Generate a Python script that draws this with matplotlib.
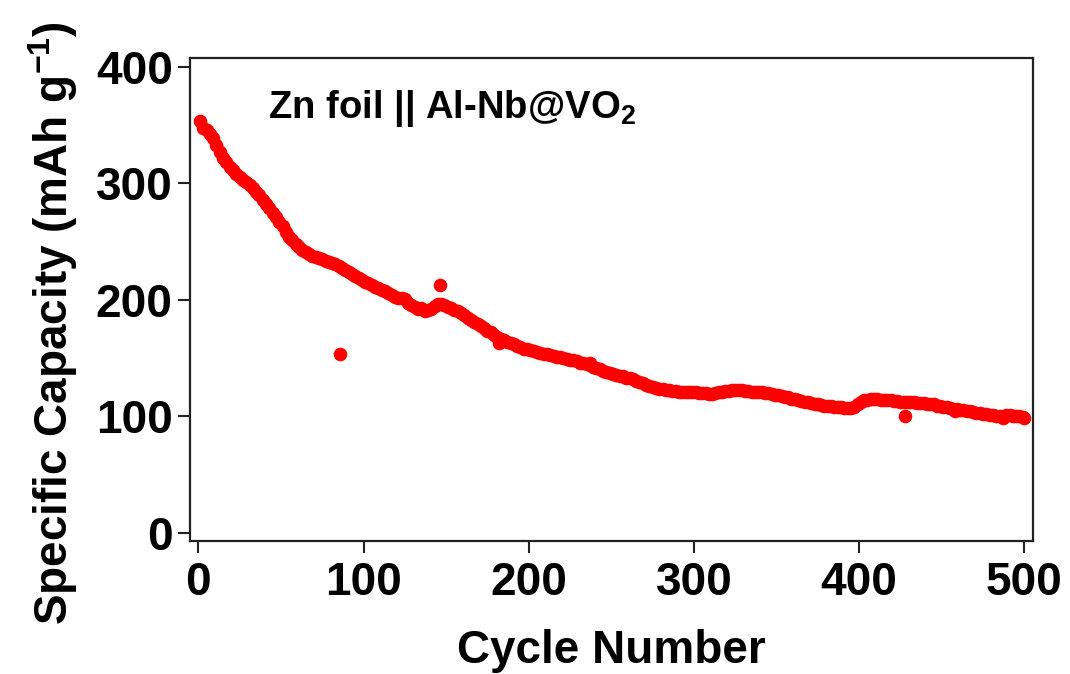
import numpy as np
import matplotlib
matplotlib.use("Agg")
import matplotlib.pyplot as plt

plt.rcParams['font.family'] = ['Liberation Sans', 'DejaVu Sans']
plt.rcParams['font.weight'] = 'bold'
plt.rcParams['mathtext.fontset'] = 'custom'
plt.rcParams['mathtext.rm'] = 'Liberation Sans:bold'
plt.rcParams['mathtext.bf'] = 'Liberation Sans:bold'

# capacity read at odd cycle numbers 1, 3, 5 ... 499
cycles = np.arange(1, 500, 2)
capacity = [
    353, 347, 345.5, 342, 338.5, 333, 327, 322, 318, 314,
    311, 308, 305.5, 303, 301, 298.5, 295.5, 292.5, 289.5, 286,
    282.5, 278.5, 274.5, 271, 267, 263, 258.5, 254, 251, 248,
    245.5, 243, 240.5, 239, 237.5, 236.5, 235.5, 234.5, 233.5, 232.5,
    231.5, 230.5, 229, 227.5, 225.5, 223.5, 222, 220, 218.5, 217,
    215.5, 214, 212.5, 211, 210, 208.5, 207, 205.5, 204, 202.5,
    201, 201.5, 200.5, 197, 195, 193.5, 192, 193, 190.5, 191.5,
    192, 194.5, 196.5, 196, 195, 194, 192.5, 191, 190, 188.5,
    186.5, 184.5, 182.5, 180.5, 179, 177, 175.5, 173.5, 172, 170,
    168, 166.5, 165, 163.5, 162.5, 161.5, 160.5, 159, 158, 157.5,
    156.5, 156, 155, 154.5, 153.5, 153, 152.5, 151.5, 151, 150.5,
    149.5, 149, 148.5, 148, 147, 146, 145.5, 144.5, 144, 142.5,
    141.5, 140.5, 139, 138, 137, 136, 135.5, 134.5, 134, 133,
    132.5, 131.5, 130.5, 129, 128, 127, 126, 125, 124.5, 123.5,
    123, 122.5, 122, 121.5, 121.5, 121, 121, 121, 120.5, 120.5,
    120.5, 120, 120, 119.5, 119, 119, 119.5, 120.5, 121, 121.5,
    121.5, 122, 122, 122, 122, 121.5, 121.5, 121, 121, 120.5,
    120.5, 120, 119.5, 119, 118.5, 118, 117.5, 116.5, 116, 115,
    114.5, 114, 113, 112.5, 112, 111, 110.5, 110, 109.5, 109,
    108.5, 108.5, 108, 108, 107.5, 107, 107, 107, 108, 110,
    112, 113.5, 114, 114.5, 114.5, 114.5, 114, 114, 113.5, 113.5,
    113, 113, 112.5, 112.5, 112, 112, 112, 111.5, 111.5, 111,
    110.5, 110.5, 110, 109, 108.5, 108, 107.5, 107, 106, 106,
    105.5, 105, 104.5, 104, 103.5, 103, 102.5, 102, 101.5, 101,
    101, 100.5, 100, 99.5, 101, 101, 100.5, 100.5, 100, 99,
]

# stray points off the main trend
odd_cycles = [86, 146, 182, 237, 428, 458, 487, 500]
odd_capacity = [153.5, 212.5, 163, 145.5, 100.5, 104.5, 98.5, 98.5]

fig = plt.figure(figsize=(10.70, 6.74), dpi=100)
ax = fig.add_axes([0.1776, 0.1978, 0.7875, 0.7161])

ax.plot(cycles, capacity, 'o', color='#ff0000', ms=9.8, mec='none')
ax.plot(odd_cycles, odd_capacity, 'o', color='#ff0000', ms=9.8, mec='none')

ax.set_xlim(-5, 505)
ax.set_ylim(-7, 407.5)
ax.set_xticks([0, 100, 200, 300, 400, 500])
ax.set_yticks([0, 100, 200, 300, 400])

for s in ax.spines.values():
    s.set_linewidth(1.6)
    s.set_color('#222222')
ax.tick_params(axis='both', direction='out', length=8.5, width=1.5,
               labelsize=33, color='#222222')
ax.tick_params(axis='x', pad=6)
ax.tick_params(axis='y', pad=4)

ax.set_xlabel('Cycle Number', fontsize=33, fontweight='bold', va='baseline')
ax.xaxis.set_label_coords(0.5, -0.2534)
# full label must stay inside the figure, so a touch smaller than the original
ax.set_ylabel(r'Specific Capacity (mAh g$^{\mathbf{-1}}$)', fontsize=33,
              fontweight='bold', ha='left', va='baseline')
ax.yaxis.set_label_coords(-0.1448, -0.1745)

ax.text(42.2, 356, r'Zn foil || Al-Nb@VO$_{\mathbf{2}}$', fontsize=27.5,
        fontweight='bold', va='baseline')

fig.savefig('out.png', dpi=100)
